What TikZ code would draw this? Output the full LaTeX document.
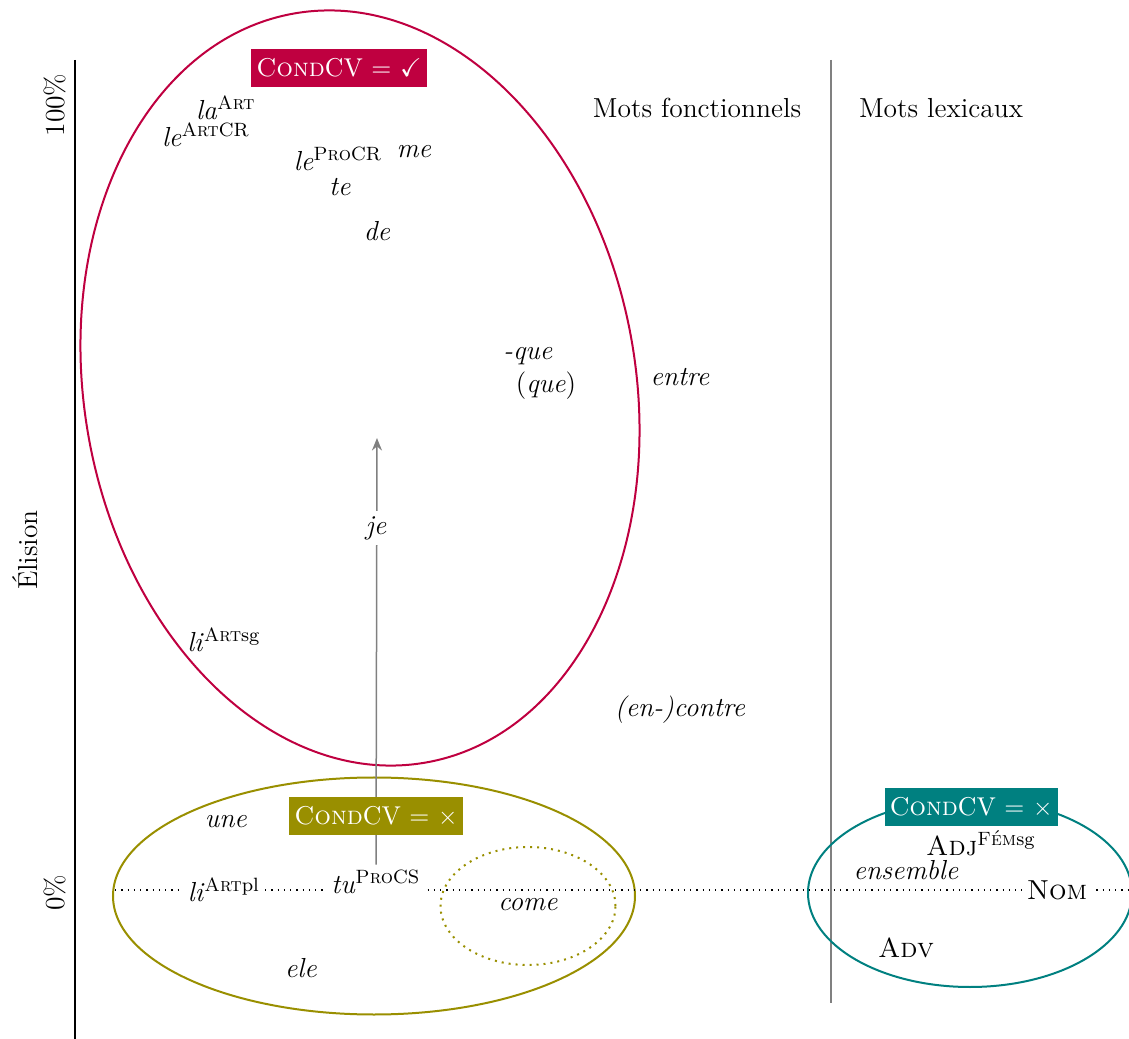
\documentclass[tikz,border=0pt]{standalone}
\usepackage{amssymb}
\usetikzlibrary{arrows.meta}
\definecolor{crim}{RGB}{191,0,64}
\definecolor{oliv}{RGB}{153,143,0}
\definecolor{tealc}{RGB}{0,128,128}
\begin{document}
\begin{tikzpicture}[x=0.4pt,y=-0.4pt, font=\fontsize{11}{13}\selectfont,
  lab/.style={inner sep=0pt},
  fl/.style={inner sep=2pt, fill=white},
  cbox/.style={fill=#1, text=white, font=\fontsize{10.3}{12}\selectfont, inner xsep=2pt, inner ysep=0pt, minimum height=15pt},
  ell/.style={draw=#1, line width=0.8pt},
  ]
\useasboundingbox (0,0) rectangle (1129,1039);
% axes
\coordinate (axtop) at (75,60);
\coordinate (axbot) at (75,1039);
\draw[line width=0.8pt] (axtop) -- (axbot);
\coordinate (sptop) at (831,60);
\coordinate (spbot) at (831,1003);
\draw[gray, line width=0.5pt] (sptop) -- (spbot);
\node[rotate=90] (p100) at (55,105) {100\%};
\node[rotate=90] (p0) at (55,893) {0\%};
\node[rotate=90] (elis) at (25,550) {\'Elision};
\node (mf) at (697,108) {Mots fonctionnels};
\node (ml) at (941,108) {Mots lexicaux};
% ellipses
\draw[ell=crim, rotate around={10:(360,388)}] (360,388) ellipse [x radius=110.3pt, y radius=152.1pt];
\draw[ell=oliv] (374,896) ellipse [x radius=104.4pt, y radius=47.4pt];
\draw[oliv, line width=0.8pt, dotted] (528,906) ellipse [x radius=35pt, y radius=23.6pt];
\draw[ell=tealc] (970,893) ellipse [x radius=64.8pt, y radius=37.6pt];
% dotted baseline
\coordinate (dl) at (115,890);
\coordinate (dr) at (1129,890);
\draw[dotted, line width=0.5pt] (dl) -- (dr);
% nodes
\node[fl] (tu) at (376,882) {\textit{tu}\textsuperscript{\textsc{Pro}CS}};
\coordinate (atip) at (377,438);
\draw[gray, line width=0.6pt, -{Stealth[length=5pt,width=4pt]}] (tu.north) -- (atip);
\node[fl] (je) at (376,528) {\textit{je}};
\node[cbox=crim] (c1) at (339,68) {\textsc{Cond}CV = $\checkmark$};
\node[cbox=oliv] (c2) at (376,816) {\textsc{Cond}CV = $\times$};
\node[cbox=tealc] (c3) at (971,807) {\textsc{Cond}CV = $\times$};
\node[lab] (laart) at (226,108) {\textit{la}\textsuperscript{\textsc{Art}}};
\node[lab] (leart) at (206,135) {\textit{le}\textsuperscript{\textsc{Art}CR}};
\node[lab] (lepro) at (338,159) {\textit{le}\textsuperscript{\textsc{Pro}CR}};
\node[lab] (me) at (414,152) {\textit{me}};
\node[lab] (te) at (340,187) {\textit{te}};
\node[lab] (de) at (377,231) {\textit{de}};
\node[lab] (que1) at (528,356) {\textit{-que}};
\node[lab] (que2) at (546,386) {(\textit{que})};
\node[lab] (entre) at (680,377) {\textit{entre}};
\node[lab] (lisg) at (224,640) {\textit{li}\textsuperscript{\textsc{Art}sg}};
\node[lab] (contre) at (680,710) {\textit{(en-)contre}};
\node[lab] (une) at (226,822) {\textit{une}};
\node[fl] (lipl) at (224,890) {\textit{li}\textsuperscript{\textsc{Art}pl}};
\node[lab] (come) at (528,905) {\textit{come}};
\node[lab] (ele) at (301,968) {\textit{ele}};
\node[lab] (adj) at (981,843) {\textsc{Adj}\textsuperscript{\textsc{F\'em}sg}};
\node[lab] (ens) at (906,870) {\textit{ensemble}};
\node[fl] (nom) at (1057,890) {\textsc{Nom}};
\node[lab] (adv) at (906,948) {\textsc{Adv}};
\end{tikzpicture}
\end{document}
